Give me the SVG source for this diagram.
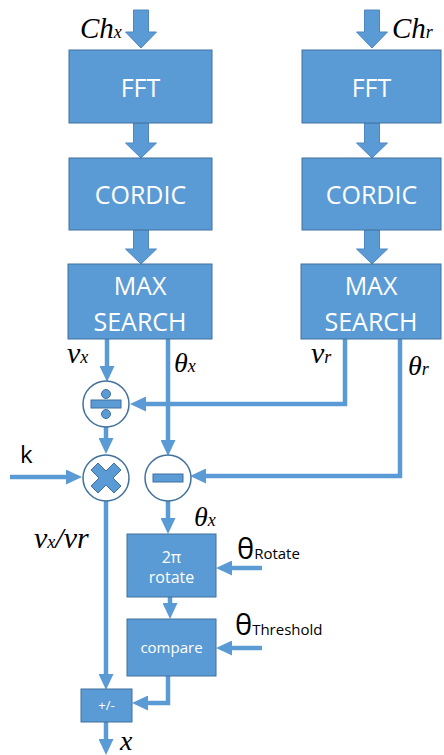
<svg xmlns="http://www.w3.org/2000/svg" width="444" height="755" viewBox="0 0 444 755">
  <style>
    .box { fill: #5B9BD5; stroke: #41719C; stroke-width: 1; }
    .blk { fill: #5B9BD5; stroke: #4F86BF; stroke-width: 1; }
    .btxt { font-family: "Open Sans", "Liberation Sans", Arial, sans-serif; fill: #FFFFFF; text-anchor: middle; }
    .wire { fill: none; stroke: #5B9BD5; stroke-width: 4.5; }
    .arr { marker-end: url(#head); }
    .op { fill: #FFFFFF; stroke: #41719C; stroke-width: 1.5; }
    .sym { fill: #5B9BD5; stroke: #41719C; stroke-width: 1; }
    .math { font-family: "Liberation Serif", "Times New Roman", serif; font-style: italic; fill: #000000; }
    .lbl { font-family: "Open Sans", "Liberation Sans", Arial, sans-serif; fill: #000000; }
  </style>
  <defs>
    <marker id="head" markerUnits="userSpaceOnUse" markerWidth="17" markerHeight="15" refX="6" refY="7.5" orient="auto">
      <path d="M0,0 L16,7.5 L0,15 Z" fill="#5B9BD5"/>
    </marker>
  </defs>

  <!-- block arrows feeding and chaining the FFT / CORDIC / MAX SEARCH stages -->
  <g id="block-arrows">
    <path class="blk" d="M133.5,10 H148.5 V32 H156.5 L141,48 L125.5,32 H133.5 Z"/>
    <path class="blk" d="M133.5,123 H148.5 V143 H156.5 L141,158 L125.5,143 H133.5 Z"/>
    <path class="blk" d="M133.5,230 H148.5 V249 H156.5 L141,264 L125.5,249 H133.5 Z"/>
    <path class="blk" d="M364.5,10 H379.5 V32 H387.5 L372,48 L356.5,32 H364.5 Z"/>
    <path class="blk" d="M364.5,123 H379.5 V143 H387.5 L372,158 L356.5,143 H364.5 Z"/>
    <path class="blk" d="M364.5,230 H379.5 V249 H387.5 L372,264 L356.5,249 H364.5 Z"/>
  </g>

  <!-- thin signal connectors -->
  <g id="connectors">
    <path class="wire arr" d="M107,339 V372"/>
    <path class="wire" d="M168,339 V445"/>
    <path class="wire arr" d="M168,445 V446"/>
    <path class="wire arr" d="M345,339 V404 H140"/>
    <path class="wire arr" d="M400,339 V476 H200"/>
    <path class="wire arr" d="M106,426 V444"/>
    <path class="wire arr" d="M10,477 H72"/>
    <path class="wire" d="M106,500 V679"/>
    <path class="wire arr" d="M106,679 V680"/>
    <path class="wire arr" d="M168,499 V524"/>
    <path class="wire arr" d="M170,597 V609"/>
    <path class="wire arr" d="M262,568 H226"/>
    <path class="wire arr" d="M262,648 H226"/>
    <path class="wire arr" d="M168,676 V703 H142"/>
    <path class="wire arr" d="M106,722 V745"/>
  </g>

  <g id="fft-x">
    <rect class="box" x="69" y="50" width="143" height="73"/>
    <text class="btxt" x="140.5" y="97" font-size="25">FFT</text>
  </g>
  <g id="fft-r">
    <rect class="box" x="302" y="50" width="139" height="73"/>
    <text class="btxt" x="371.5" y="97" font-size="25">FFT</text>
  </g>
  <g id="cordic-x">
    <rect class="box" x="69" y="158" width="143" height="72"/>
    <text class="btxt" x="140.5" y="204" font-size="25">CORDIC</text>
  </g>
  <g id="cordic-r">
    <rect class="box" x="302" y="158" width="139" height="72"/>
    <text class="btxt" x="371.5" y="204" font-size="25">CORDIC</text>
  </g>
  <g id="maxsearch-x">
    <rect class="box" x="68" y="264" width="144" height="75"/>
    <text class="btxt" x="140" y="295" font-size="25">MAX</text>
    <text class="btxt" x="140" y="331" font-size="25">SEARCH</text>
  </g>
  <g id="maxsearch-r">
    <rect class="box" x="301" y="264" width="140" height="75"/>
    <text class="btxt" x="371" y="295" font-size="25">MAX</text>
    <text class="btxt" x="371" y="331" font-size="25">SEARCH</text>
  </g>

  <g id="divide">
    <circle class="op" cx="106" cy="404" r="23"/>
    <rect class="sym" x="91" y="400" width="30" height="8"/>
    <circle class="sym" cx="106" cy="394" r="4.5"/>
    <circle class="sym" cx="106" cy="414" r="4.5"/>
  </g>
  <g id="multiply">
    <circle class="op" cx="106" cy="478" r="23"/>
    <path class="sym" d="M106,471 L114,463 L121,470 L113,478 L121,486 L114,493 L106,485 L98,493 L91,486 L99,478 L91,470 L98,463 Z"/>
  </g>
  <g id="subtract">
    <circle class="op" cx="168" cy="478" r="23"/>
    <rect class="sym" x="153" y="474" width="30" height="8"/>
  </g>

  <g id="rotate">
    <rect class="box" x="127" y="534" width="89" height="63"/>
    <text class="btxt" x="171.5" y="563" font-size="16">2π</text>
    <text class="btxt" x="171.5" y="583" font-size="16">rotate</text>
  </g>
  <g id="compare">
    <rect class="box" x="127" y="619" width="89" height="57"/>
    <text class="btxt" x="171.5" y="653" font-size="15">compare</text>
  </g>
  <g id="sign">
    <rect class="box" x="81" y="689" width="51" height="33"/>
    <text class="btxt" x="106.5" y="710" font-size="13">+/-</text>
  </g>

  <!-- signal labels -->
  <g id="labels">
    <text class="math" x="80" y="38" font-size="29">Ch<tspan font-size="18">x</tspan></text>
    <text class="math" x="392" y="38" font-size="29">Ch<tspan font-size="18">r</tspan></text>
    <text class="math" x="67" y="363" font-size="30">v<tspan font-size="18">x</tspan></text>
    <text class="math" x="174" y="372" font-size="28">θ<tspan font-size="18">x</tspan></text>
    <text class="math" x="311" y="363" font-size="30">v<tspan font-size="18">r</tspan></text>
    <text class="math" x="408" y="375" font-size="28">θ<tspan font-size="18">r</tspan></text>
    <text class="lbl" x="20" y="463" font-size="24">k</text>
    <text class="math" x="194" y="526" font-size="28">θ<tspan font-size="18">x</tspan></text>
    <text class="math" x="34" y="548" font-size="30">v<tspan font-size="18">x</tspan>/vr</text>
    <text class="lbl" x="237" y="559" font-size="29">θ<tspan font-size="15">Rotate</tspan></text>
    <text class="lbl" x="235" y="635" font-size="29">θ<tspan font-size="15">Threshold</tspan></text>
    <text class="math" x="120" y="750" font-size="28">x</text>
  </g>
</svg>
